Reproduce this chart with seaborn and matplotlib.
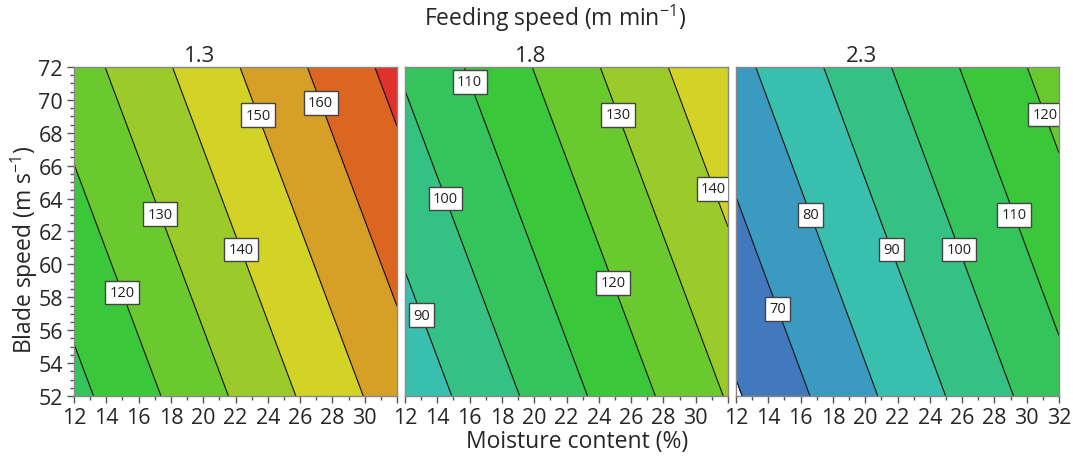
import numpy as np
import matplotlib.pyplot as plt
import seaborn as sns
from matplotlib.colors import ListedColormap, BoundaryNorm
from matplotlib.ticker import MultipleLocator

# corner values: rows = blade speed (52, 72), cols = moisture (12, 32)
moisture = [12, 32]
blade_speed = [52, 72]
feed_speeds = ['1.3', '1.8', '2.3']
resp_13 = [[107.1, 155.0], [125.4, 173.3]]
resp_18 = [[83.1, 130.7], [101.3, 148.8]]
resp_23 = [[59.1, 106.7], [77.1, 124.7]]

levels = list(range(60, 190, 10))
band_colors = ['#4178be', '#3a9ac0', '#38bfae', '#36c184', '#35c35c', '#3ac73a',
               '#6ac92f', '#9bcb2b', '#d3d327', '#d6a027', '#dc6522', '#e0322a']

# where the contour labels sit
spots_13 = [(15.0, 58.3), (17.2, 63.0), (22.6, 61.0), (23.2, 69.0), (27.2, 69.8)]
spots_18 = [(13.0, 56.9), (14.5, 64.0), (16.0, 71.1), (24.9, 58.9), (25.2, 69.1), (31.1, 64.6)]
spots_23 = [(14.6, 57.3), (16.6, 63.0), (21.6, 60.9), (25.8, 60.9), (29.2, 63.0), (31.1, 69.1)]

sns.set_theme(style='ticks')
plt.rcParams['font.family'] = ['Open Sans', 'DejaVu Sans']
plt.rcParams['mathtext.default'] = 'regular'

cmap = ListedColormap(sns.color_palette(band_colors))
norm = BoundaryNorm(levels, cmap.N)

fig = plt.figure(figsize=(10.73, 4.6), dpi=100)
lefts = [74, 405, 736]
X, Y = np.meshgrid(moisture, blade_speed)

for i, (vals, spots) in enumerate(zip([resp_13, resp_18, resp_23],
                                      [spots_13, spots_18, spots_23])):
    ax = fig.add_axes([lefts[i] / 1073, 1 - 397 / 460, 323 / 1073, 329 / 460])
    Z = np.array(vals)
    ax.contourf(X, Y, Z, levels=levels, cmap=cmap, norm=norm)
    cs = ax.contour(X, Y, Z, levels=levels, colors='#111111', linewidths=0.8)
    lbls = ax.clabel(cs, inline=False, fontsize=10.5, fmt='%d', manual=spots)
    for t in lbls:
        t.set_rotation(0)
        t.set_color('#222222')
        t.set_bbox(dict(boxstyle='square,pad=0.3', fc='white', ec='#444444', lw=1))
    ax.set_xlim(12, 32)
    ax.set_ylim(52, 72)
    ticks = list(range(12, 33, 2))
    ax.set_xticks(ticks)
    ax.set_xticklabels([str(v) if (v < 32 or i == 2) else '' for v in ticks])
    ax.xaxis.set_minor_locator(MultipleLocator(1))
    ax.tick_params(axis='both', which='major', labelsize=15.5, length=5, width=1,
                   color='#555555', pad=3)
    ax.tick_params(axis='both', which='minor', length=3, width=1, color='#555555')
    if i == 0:
        ax.yaxis.set_major_locator(MultipleLocator(2))
        ax.yaxis.set_minor_locator(MultipleLocator(0.5))
    else:
        ax.set_yticks([])
        ax.tick_params(axis='y', which='both', left=False)
    for sp in ax.spines.values():
        sp.set_visible(True)
        sp.set_color('#888888')
        sp.set_linewidth(1)
    ax.set_title(feed_speeds[i], x=0.39, fontsize=16, pad=4)

fig.text(555 / 1073, 1 - 18 / 460, 'Feeding speed (m min$^{-1}$)', ha='center',
         va='center', fontsize=16.5)
fig.text(577 / 1073, 1 - 442 / 460, 'Moisture content (%)', ha='center',
         va='center', fontsize=16.5)
fig.text(24 / 1073, 1 - 250 / 460, 'Blade speed (m s$^{-1}$)', ha='center',
         va='center', rotation=90, fontsize=16.5)

fig.savefig('out.png', dpi=100)
